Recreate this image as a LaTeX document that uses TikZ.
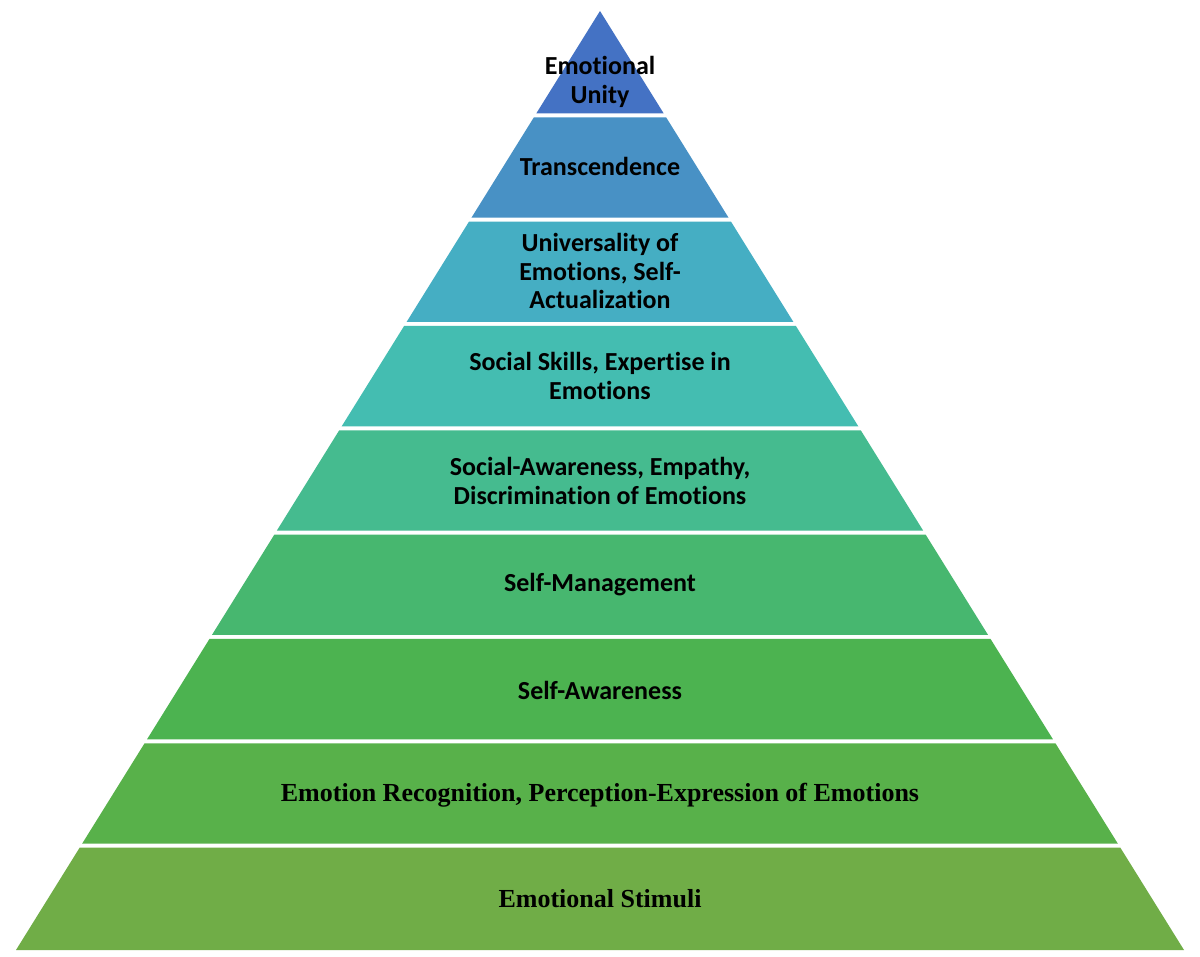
\documentclass[tikz,border=0pt]{standalone}
\usepackage{fontspec}
\setmainfont{Carlito}[Ligatures={NoCommon}]
\newfontfamily\tnrfont{Liberation Serif}
\definecolor{c1}{HTML}{4472C4}
\definecolor{c2}{HTML}{4891C5}
\definecolor{c3}{HTML}{45AEC3}
\definecolor{c4}{HTML}{44BDB1}
\definecolor{c5}{HTML}{45BB8F}
\definecolor{c6}{HTML}{47B76F}
\definecolor{c7}{HTML}{4CB350}
\definecolor{c8}{HTML}{58B14A}
\definecolor{c9}{HTML}{70AD47}
\newcommand\pyrlayer[2]{%
  \pgfmathsetmacro\yt{#1==0 ? 11 : 11+#1*104.33+2}%
  \pgfmathsetmacro\yb{#1==8 ? 950 : 11+(#1+1)*104.33-2}%
  \pgfmathsetmacro\wt{(\yt-11)*0.62194}%
  \pgfmathsetmacro\wb{(\yb-11)*0.62194}%
  \fill[#2] ({600-\wt},\yt) -- ({600+\wt},\yt) -- ({600+\wb},\yb) -- ({600-\wb},\yb) -- cycle;}
\tikzset{
  calitext/.style={align=center, text=black, inner sep=0pt, font=\bfseries\fontsize{26}{28.5}\selectfont},
  tnrtext/.style={align=center, text=black, inner sep=0pt, font=\tnrfont\bfseries\fontsize{26}{28.5}\selectfont}
}
\begin{document}
\begin{tikzpicture}[x=1pt,y=-1pt]
\useasboundingbox (0,0) rectangle (1200,957);
\fill[white] (0,0) rectangle (1200,957);
\pyrlayer{0}{c1}
\pyrlayer{1}{c2}
\pyrlayer{2}{c3}
\pyrlayer{3}{c4}
\pyrlayer{4}{c5}
\pyrlayer{5}{c6}
\pyrlayer{6}{c7}
\pyrlayer{7}{c8}
\pyrlayer{8}{c9}
\node[calitext] (t1) at (600,82) {Emotional\\Unity};
\node[calitext] (t2) at (600,166) {Transcendence};
\node[calitext] (t3) at (600,271) {Universality of\\Emotions, Self-\\Actualization};
\node[calitext] (t4) at (600,376) {Social Skills, Expertise in\\Emotions};
\node[calitext] (t5) at (600,481) {Social-Awareness, Empathy,\\Discrimination of Emotions};
\node[calitext] (t6) at (600,585) {Self-Management};
\node[calitext] (t7) at (600,690) {Self-Awareness};
\node[tnrtext] (t8) at (600,795) {Emotion Recognition, Perception-Expression of Emotions};
\node[tnrtext] (t9) at (600,899) {Emotional Stimuli};
\end{tikzpicture}
\end{document}
